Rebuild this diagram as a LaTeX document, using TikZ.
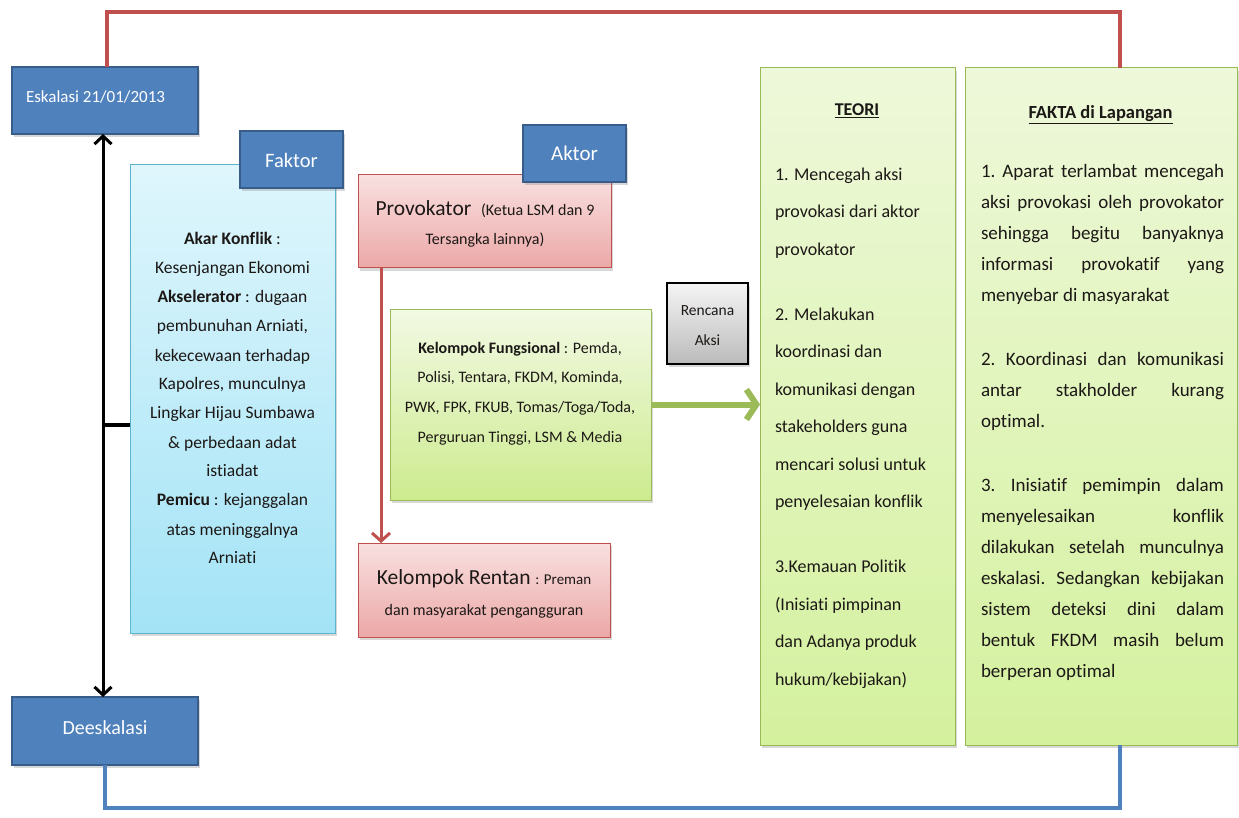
\documentclass[tikz,border=0pt]{standalone}
\usepackage{fontspec}
\setmainfont[Ligatures=NoCommon]{Carlito}
\usetikzlibrary{arrows.meta,shadows,calc}
\definecolor{bluefill}{HTML}{4F81BD}
\definecolor{blueborder}{HTML}{385D8A}
\definecolor{redline}{HTML}{C0504D}
\definecolor{greenline}{HTML}{9BBB59}
\definecolor{cyanTop}{HTML}{DFF6FC}
\definecolor{cyanBot}{HTML}{A3E3F6}
\definecolor{cyanBorder}{HTML}{5BB5CF}
\definecolor{pinkTop}{HTML}{F9E0E0}
\definecolor{pinkBot}{HTML}{EBA8A7}
\definecolor{limeTop}{HTML}{F2F9E3}
\definecolor{limeBot}{HTML}{CDEB8F}
\definecolor{paleTop}{HTML}{EEF8DA}
\definecolor{paleBot}{HTML}{D4F19E}
\definecolor{paleBorder}{HTML}{98B954}
\definecolor{greyTop}{HTML}{F5F5F5}
\definecolor{greyBot}{HTML}{BBBBBB}
\definecolor{txt}{HTML}{1C1816}
\tikzset{
  boxbase/.style={rectangle, anchor=north west, inner sep=0pt, outer sep=0pt,
    drop shadow={shadow xshift=1.5pt, shadow yshift=-3pt, opacity=0.3}},
  bluebox/.style={boxbase, fill=bluefill, draw=blueborder, line width=1.8pt},
  cyanbox/.style={boxbase, top color=cyanTop, bottom color=cyanBot, draw=cyanBorder, line width=1pt},
  pinkbox/.style={boxbase, top color=pinkTop, bottom color=pinkBot, draw=redline, line width=1pt},
  limebox/.style={boxbase, top color=limeTop, bottom color=limeBot, draw=greenline, line width=1pt},
  palebox/.style={boxbase, top color=paleTop, bottom color=paleBot, draw=paleBorder, line width=1pt},
  greybox/.style={boxbase, top color=greyTop, bottom color=greyBot, draw=black, line width=1.5pt},
  txtnode/.style={inner sep=0pt, outer sep=0pt, anchor=base, text=txt},
  whitetxt/.style={inner sep=0pt, outer sep=0pt, anchor=base, text=white},
  redconn/.style={draw=redline, line width=4pt},
  blueconn/.style={draw=bluefill, line width=4pt},
  blackarrow/.style={draw=black, line width=3pt, {Straight Barb[length=8pt,width=17pt]}-{Straight Barb[length=8pt,width=17pt]}},
  redarrow/.style={draw=redline, line width=3pt, -{Straight Barb[length=8pt,width=18pt]}},
  greenarrow/.style={draw=greenline, line width=6pt, -{Straight Barb[length=10pt,width=30pt]}},
}
\begin{document}
\begin{tikzpicture}[x=1pt,y=-1pt]
\useasboundingbox (0,0) rectangle (1239,818);
\fill[white] (0,0) rectangle (1239,818);

% boxes
\node[bluebox, minimum width=186pt, minimum height=67pt] (esk) at (12,67) {};
\node[bluebox, minimum width=186pt, minimum height=68pt] (deesk) at (12,697) {};
\node[cyanbox, minimum width=205pt, minimum height=468pt] (faktor) at (130,165) {};
\node[bluebox, minimum width=103pt, minimum height=57pt] (faktorL) at (240,131) {};
\node[pinkbox, minimum width=253pt, minimum height=93pt] (prov) at (358,175) {};
\node[bluebox, minimum width=103pt, minimum height=57pt] (aktorL) at (523,125) {};
\node[limebox, minimum width=261pt, minimum height=191pt] (fung) at (390,309) {};
\node[pinkbox, minimum width=252pt, minimum height=94pt] (rentan) at (358,543) {};
\node[greybox, minimum width=81pt, minimum height=81pt] (rencana) at (667,283) {};
\node[palebox, minimum width=195pt, minimum height=677pt] (teori) at (760,68) {};
\node[palebox, minimum width=272pt, minimum height=677pt] (fakta) at (965,68) {};

% coordinates for connectors
\coordinate (redTopL) at (107,12);
\coordinate (redTopR) at (1120,12);
\coordinate (blueBotL) at (105,808);
\coordinate (blueBotR) at (1120,808);
\coordinate (axisX) at (103,0);
\coordinate (tick) at (103,425);
\coordinate (redX) at (381,0);

% connectors
\draw[redconn] (esk.north -| redTopL) -- (redTopL) -- (redTopR) -- (redTopR |- fakta.north);
\draw[blueconn] (deesk.south -| blueBotL) -- (blueBotL) -- (blueBotR) -- (blueBotR |- fakta.south);
\draw[blackarrow] (esk.south -| axisX) -- (deesk.north -| axisX);
\draw[draw=black, line width=3.5pt] (tick) -- (tick -| faktor.west);
\draw[redarrow] (prov.south -| redX) -- (rentan.north -| redX);
\draw[greenarrow] (fung.east) -- (fung.east -| teori.west);

% texts
\node[whitetxt, anchor=base west, font=\fontsize{17}{20}\selectfont] (eskT) at (26,103) {Eskalasi 21/01/2013};
\node[whitetxt, font=\fontsize{20}{24}\selectfont] (deeskT) at (105,734) {Deeskalasi};
\node[whitetxt, font=\fontsize{20.5}{24}\selectfont] (faktorLT) at (291.5,168) {Faktor};
\node[whitetxt, font=\fontsize{21}{24}\selectfont] (aktorLT) at (574.5,161) {Aktor};

\node[txtnode] (faktorT) at (232.5,245) {\parbox[t]{200pt}{\centering\fontsize{17.5}{29}\selectfont
\textbf{Akar Konflik} :\\
Kesenjangan Ekonomi\\
\textbf{Akselerator} : dugaan\\
pembunuhan Arniati,\\
kekecewaan terhadap\\
Kapolres, munculnya\\
Lingkar Hijau Sumbawa\\
\& perbedaan adat\\
istiadat\\
\textbf{Pemicu} : kejanggalan\\
atas meninggalnya\\
Arniati}};

\node[txtnode] (provT) at (485,216) {\parbox[t]{250pt}{\centering\fontsize{21.5}{29}\selectfont
Provokator~ {\fontsize{16}{29}\selectfont(Ketua LSM dan 9}\\
{\fontsize{16}{29}\selectfont Tersangka lainnya)}}};

\node[txtnode] (fungT) at (520,353) {\parbox[t]{258pt}{\centering\fontsize{16}{29.7}\selectfont
\textbf{Kelompok Fungsional} : Pemda,\\
Polisi, Tentara, FKDM, Kominda,\\
PWK, FPK, FKUB, Tomas/Toga/Toda,\\
Perguruan Tinggi, LSM \& Media}};

\node[txtnode] (rentanT) at (484,584) {\parbox[t]{250pt}{\centering\fontsize{21.5}{31}\selectfont
Kelompok Rentan {\fontsize{15}{31}\selectfont: Preman}\\
{\fontsize{16}{31}\selectfont dan masyarakat pengangguran}}};

\node[txtnode] (rencanaT) at (707.5,315) {\parbox[t]{80pt}{\centering\fontsize{15.5}{30}\selectfont
Rencana\\ Aksi}};

\node[txtnode, font=\fontsize{18}{22}\selectfont\bfseries] (teoriTitle) at (857,116) {\underline{TEORI}};
\node[txtnode, anchor=base west] (teoriT) at (775,180.5) {\parbox[t]{178pt}{\raggedright\fontsize{18}{37.5}\selectfont
1. Mencegah aksi\\
provokasi dari aktor\\
provokator\par\vspace{27.5pt}
2. Melakukan\\
koordinasi dan\\
komunikasi dengan\\
stakeholders guna\\
mencari solusi untuk\\
penyelesaian konflik\par\vspace{27.5pt}
3.Kemauan Politik\\
(Inisiati pimpinan\\
dan Adanya produk\\
hukum/kebijakan)}};

\node[txtnode, font=\fontsize{18.5}{22}\selectfont\bfseries] (faktaTitle) at (1100.5,119) {\underline{FAKTA di Lapangan}};
\node[txtnode, anchor=base west] (faktaT) at (981,178) {\parbox[t]{243pt}{\frenchspacing\tolerance=10000\hbadness=10000\fontsize{19}{31}\selectfont
1. Aparat terlambat mencegah\linebreak
aksi provokasi oleh provokator\linebreak
sehingga begitu banyaknya\linebreak
informasi provokatif yang\linebreak
menyebar di masyarakat\par\vspace{33pt}
2. Koordinasi dan komunikasi\linebreak
antar stakholder kurang\linebreak
optimal.\par\vspace{33pt}
3. Inisiatif pemimpin dalam\linebreak
menyelesaikan konflik\linebreak
dilakukan setelah munculnya\linebreak
eskalasi. Sedangkan kebijakan\linebreak
sistem deteksi dini dalam\linebreak
bentuk FKDM masih belum\linebreak
berperan optimal}};
\end{tikzpicture}
\end{document}
